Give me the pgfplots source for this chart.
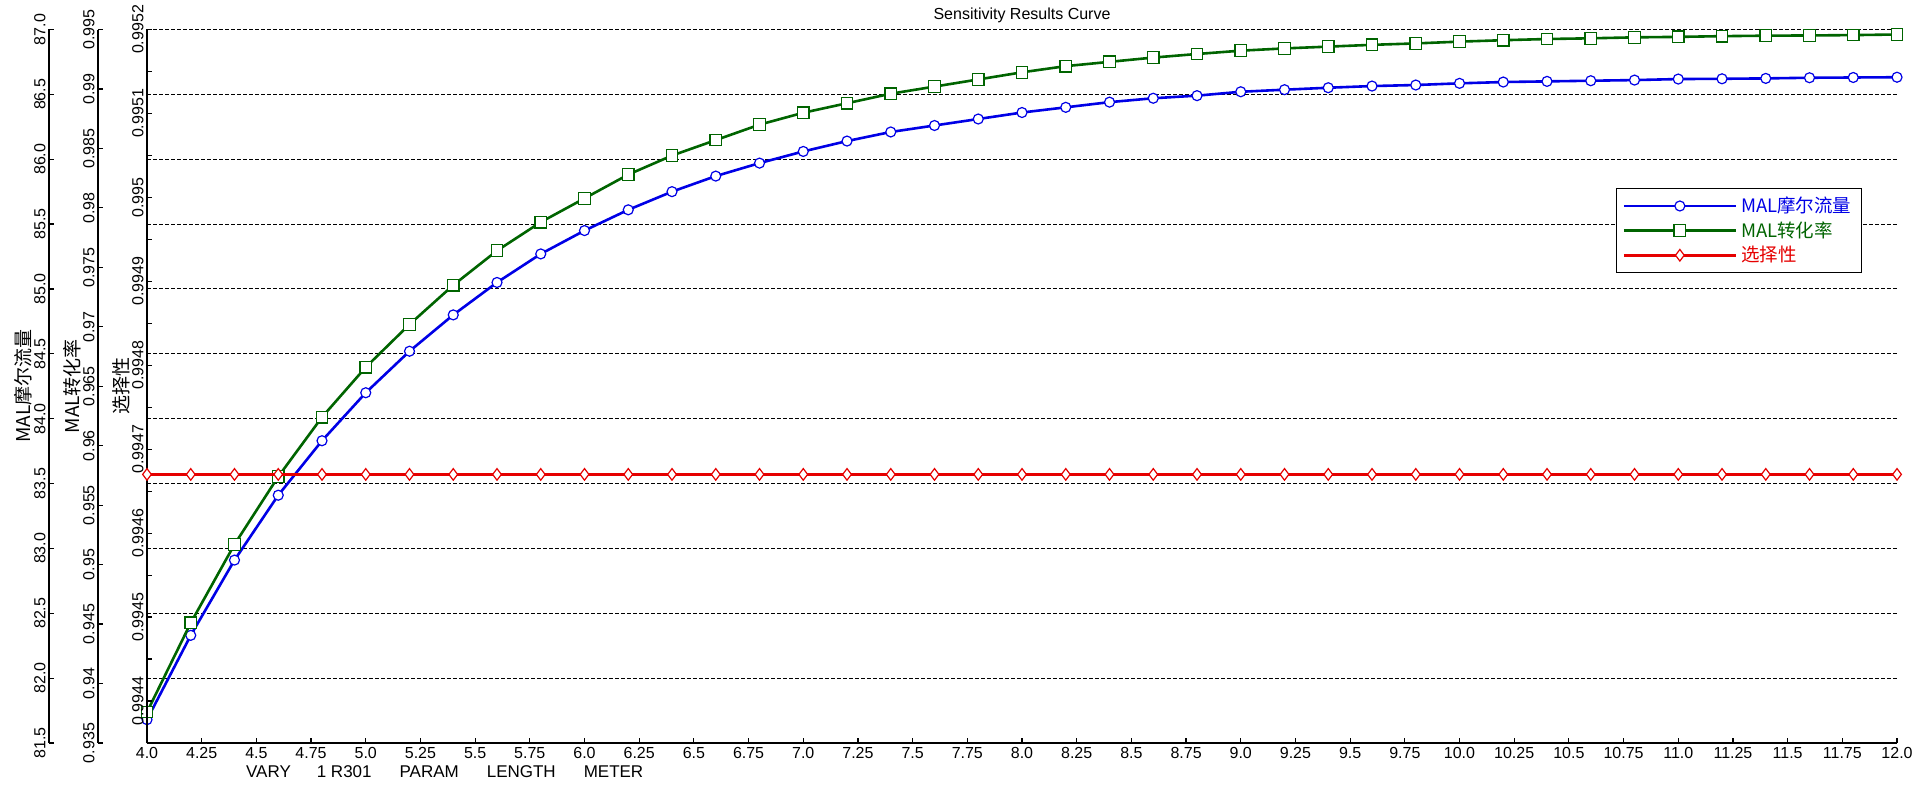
\documentclass[border=0pt]{standalone}
\usepackage{fontspec}
\setmainfont{Liberation Sans}
\newfontfamily\cjk{Noto Sans CJK SC}
\usepackage{pgfplots}
\pgfplotsset{compat=1.18}
\usepackage{pgfplotstable}

\definecolor{mblue}{RGB}{0,0,230}
\definecolor{mgreen}{RGB}{0,100,0}
\definecolor{mred}{RGB}{230,0,0}

% x = length, flow = MAL molar flow, conv = MAL conversion, sel = selectivity
\pgfplotstableread{
x     flow    conv     sel
4.0   81.68   0.9376   0.99467
4.2   82.33   0.9451   0.99467
4.4   82.91   0.9517   0.99467
4.6   83.41   0.9574   0.99467
4.8   83.83   0.9624   0.99467
5.0   84.20   0.9666   0.99467
5.2   84.52   0.9702   0.99467
5.4   84.80   0.9735   0.99467
5.6   85.05   0.9764   0.99467
5.8   85.27   0.9788   0.99467
6.0   85.45   0.9808   0.99467
6.2   85.61   0.9828   0.99467
6.4   85.75   0.9844   0.99467
6.6   85.87   0.9857   0.99467
6.8   85.97   0.9870   0.99467
7.0   86.06   0.9880   0.99467
7.2   86.14   0.9888   0.99467
7.4   86.21   0.9896   0.99467
7.6   86.26   0.9902   0.99467
7.8   86.31   0.9908   0.99467
8.0   86.36   0.9914   0.99467
8.2   86.40   0.99192  0.99467
8.4   86.44   0.99228  0.99467
8.6   86.47   0.99264  0.99467
8.8   86.49   0.99294  0.99467
9.0   86.52   0.99322  0.99467
9.2   86.536  0.99341  0.99467
9.4   86.551  0.99356  0.99467
9.6   86.564  0.99371  0.99467
9.8   86.572  0.99383  0.99467
10.0  86.585  0.99398  0.99467
10.2  86.595  0.99410  0.99467
10.4  86.600  0.99420  0.99467
10.6  86.605  0.99426  0.99467
10.8  86.610  0.99434  0.99467
11.0  86.618  0.99438  0.99467
11.2  86.620  0.99444  0.99467
11.4  86.623  0.99448  0.99467
11.6  86.628  0.99450  0.99467
11.8  86.630  0.99453  0.99467
12.0  86.632  0.99458  0.99467
}\results

\pgfplotsset{
  base/.style={
    scale only axis, width=875pt, height=356.75pt,
    xmin=4, xmax=12, clip=false,
    /pgf/number format/assume math mode=true,
    scaled ticks=false,
    tick align=inside,
    major tick length=2.5pt, minor tick length=2.5pt,
    tick style={black, line width=0.6pt},
    tick label style={font=\fontsize{8}{9}\selectfont},
  },
  yscale/.style={
    axis x line=none, axis y line*=left,
    y axis line style={line width=0.9pt},
    yticklabel style={rotate=90, anchor=south, inner sep=1.5pt},
    ylabel style={at={(axis description cs:0,0.5)}, anchor=center,
      yshift=13pt, font=\cjk\fontsize{9.5}{11}\selectfont},
  },
  flowstyle/.style={mblue, line width=1.3pt, mark=*, mark size=2.5pt,
    mark options={fill=white, line width=0.6pt}},
  convstyle/.style={mgreen, line width=1.3pt, mark=square*, mark size=2.9pt,
    mark options={fill=white, line width=0.6pt}},
  selstyle/.style={mred, line width=1.3pt, mark=diamond*, mark size=2.9pt,
    mark options={fill=white, line width=0.6pt}},
}

\begin{document}
\begin{tikzpicture}
\path[use as bounding box] (-73.5pt,-25pt) rectangle (884pt,371.5pt);

% MAL flow scale, outermost
\begin{axis}[base, yscale, at={(-49pt,0)}, width=10pt, xmin=0, xmax=1,
    ymin=81.5, ymax=87,
    ytick={81.5,82,...,87},
    yticklabel style={/pgf/number format/.cd, fixed, fixed zerofill, precision=1},
    ylabel={MAL摩尔流量},
]
\end{axis}

% MAL conversion scale
\begin{axis}[base, yscale, at={(-24.5pt,0)}, width=10pt, xmin=0, xmax=1,
    ymin=0.935, ymax=0.995,
    ytick={0.935,0.94,0.945,0.95,0.955,0.96,0.965,0.97,0.975,0.98,0.985,0.99,0.995},
    yticklabel style={/pgf/number format/.cd, fixed, precision=3},
    ylabel={MAL转化率},
]
\end{axis}

% main axis: x axis, grid, flow curve
\begin{axis}[base, name=main, at={(0,0)},
    axis x line*=bottom, axis y line*=left,
    x axis line style={line width=1.3pt},
    y axis line style={line width=0.9pt},
    xtick={4,4.25,...,12},
    xticklabels={4.0,4.25,4.5,4.75,5.0,5.25,5.5,5.75,6.0,6.25,6.5,6.75,7.0,7.25,7.5,7.75,8.0,8.25,8.5,8.75,9.0,9.25,9.5,9.75,10.0,10.25,10.5,10.75,11.0,11.25,11.5,11.75,12.0},
    xticklabel style={inner sep=2pt},
    ymin=81.5, ymax=87,
    ytick={81.5,82,...,87}, yticklabels={},
    ytick style={draw=none},
    ymajorgrids,
    major grid style={black, line width=0.5pt, dash pattern=on 1.8pt off 1.2pt},
    title={Sensitivity Results Curve},
    title style={at={(axis description cs:0.5,1)}, anchor=center, yshift=1.25pt,
      font=\fontsize{8}{9}\selectfont},
    xlabel={VARY\hspace{13pt}1 R301\hspace{14pt}PARAM\hspace{14pt}LENGTH\hspace{14pt}METER},
    xlabel style={at={(axis description cs:0.0526,0)}, anchor=west, yshift=-14.5pt,
      font=\fontsize{8.5}{9}\selectfont},
]
\addplot[flowstyle] table[x=x, y=flow] {\results};
\end{axis}

% conversion curve
\begin{axis}[base, at={(0,0)}, axis lines=none, ymin=0.935, ymax=0.995]
\addplot[convstyle] table[x=x, y=conv] {\results};
\end{axis}

% selectivity scale on the plot edge, curve and legend
\begin{axis}[base, yscale, at={(0,0)},
    ymin=0.99435, ymax=0.9952,
    ytick={0.9944,0.9945,0.9946,0.9947,0.9948,0.9949,0.995,0.9951,0.9952},
    minor y tick num=1,
    yticklabel style={/pgf/number format/.cd, fixed, precision=4},
    ylabel={选择性},
    legend style={at={(0.8394,0.7778)}, anchor=north west, draw=black,
      line width=0.6pt, fill=white, inner xsep=3pt, inner ysep=2pt, row sep=-1pt,
      font=\cjk\fontsize{9.25}{11}\selectfont},
    legend cell align=left,
    legend image code/.code={%
      \draw[mark repeat=2, mark phase=2, #1] plot coordinates {(0pt,0pt) (28pt,0pt) (56pt,0pt)};},
]
\addlegendimage{flowstyle}
\addlegendentry[text=mblue]{MAL摩尔流量}
\addlegendimage{convstyle}
\addlegendentry[text=mgreen]{MAL转化率}
\addplot[selstyle] table[x=x, y=sel] {\results};
\addlegendentry[text=mred]{选择性}
\end{axis}
\end{tikzpicture}
\end{document}
